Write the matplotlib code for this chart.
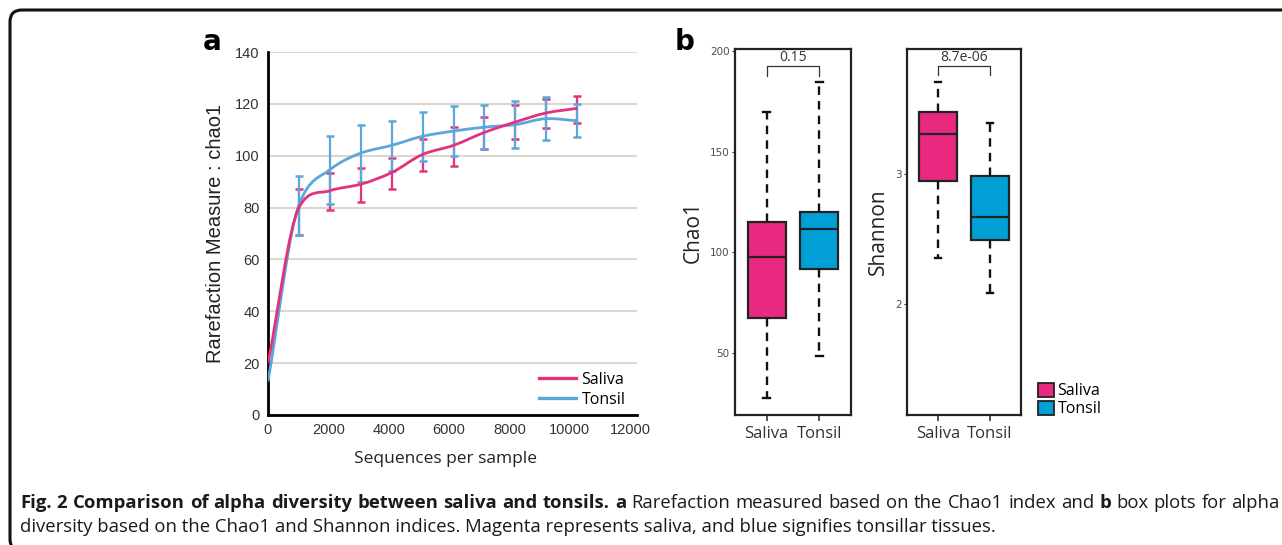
import numpy as np
import matplotlib
matplotlib.use("Agg")
import matplotlib.pyplot as plt
from matplotlib.path import Path
from matplotlib.patches import PathPatch, FancyBboxPatch, Patch
from matplotlib.lines import Line2D

# ---- data: rarefaction (panel a) ----
seq_depth = [0, 1025, 2050, 3075, 4100, 5125, 6150, 7175, 8200, 9225, 10250]
saliva_mean = [20, 80, 86.5, 89, 93.5, 100.5, 104, 109, 113, 116.5, 118.3]
saliva_low = [20, 69.3, 79.1, 82.2, 87.0, 94.2, 96.1, 102.6, 106.3, 110.6, 112.8]
saliva_high = [20, 87.1, 93.2, 95.2, 99.2, 106.3, 111.2, 115.0, 119.4, 121.9, 123.2]
tonsil_mean = [13, 81, 94.6, 101, 104, 107.5, 109.5, 111, 112, 114.3, 113.5]
tonsil_low = [13, 69.3, 81.3, 89.9, 94.2, 98.1, 100.0, 102.6, 102.8, 105.9, 107.1]
tonsil_high = [13, 92.0, 107.5, 111.9, 113.5, 116.9, 119.1, 119.5, 121.2, 122.5, 119.9]

# ---- data: box plots (panel b) ----
groups = ["Saliva", "Tonsil"]
chao1_whislo = [28, 48.5]
chao1_q1 = [67.5, 92]
chao1_med = [98, 111.6]
chao1_q3 = [115, 120.2]
chao1_whishi = [169.8, 184.7]
chao1_p = "0.15"
shannon_whislo = [2.356, 2.085]
shannon_q1 = [2.943, 2.492]
shannon_med = [3.308, 2.669]
shannon_q3 = [3.477, 2.987]
shannon_whishi = [3.705, 3.395]
shannon_p = "8.7e-06"

PINK_LINE = "#e2327c"
BLUE_LINE = "#5ba6da"
PINK_BOX = "#e8297f"
BLUE_BOX = "#00a0d6"

W, H = 1282, 545
fig = plt.figure(figsize=(W / 100, H / 100), dpi=100)


def frac(x0, y0, x1, y1):
    # pixel box (top-left origin) -> figure fraction rect
    return [x0 / W, 1 - y1 / H, (x1 - x0) / W, (y1 - y0) / H]


def smooth_path(x, y):
    # smoothed line through the points as cubic bezier segments
    # tangents: mix of catmull-rom and monotone (pchip) so the knee doesn't overshoot much
    x = np.asarray(x, float)
    y = np.asarray(y, float)
    n = len(x)
    h = np.diff(x)
    d = np.diff(y) / h
    m = np.zeros(n)
    for k in range(1, n - 1):
        cr = (y[k + 1] - y[k - 1]) / (x[k + 1] - x[k - 1])
        if d[k - 1] * d[k] > 0:
            w1 = 2 * h[k] + h[k - 1]
            w2 = h[k] + 2 * h[k - 1]
            pc = (w1 + w2) / (w1 / d[k - 1] + w2 / d[k])
        else:
            pc = 0.0
        m[k] = 0.5 * (cr + pc)
    m[0] = d[0]
    m[-1] = d[-1]
    verts = [(x[0], y[0])]
    codes = [Path.MOVETO]
    for k in range(n - 1):
        verts += [(x[k] + h[k] / 3, y[k] + m[k] * h[k] / 3),
                  (x[k + 1] - h[k] / 3, y[k + 1] - m[k + 1] * h[k] / 3),
                  (x[k + 1], y[k + 1])]
        codes += [Path.CURVE4] * 3
    return Path(verts, codes)


# ---------------- panel a ----------------
ax = fig.add_axes(frac(268, 52, 637, 415))
ax.set_xlim(0, 12230)
ax.set_ylim(0, 140)
ax.set_yticks(range(0, 141, 20))
ax.set_xticks(range(0, 12001, 2000))
ax.yaxis.grid(True, color="#dcd6cf", lw=1.5)
ax.set_axisbelow(True)
for s in ["top", "right"]:
    ax.spines[s].set_visible(False)
ax.spines["left"].set_linewidth(2)
ax.spines["bottom"].set_linewidth(2)
ax.tick_params(length=0, labelsize=10.5, labelcolor="#333333", pad=6)
for lab in ax.get_xticklabels() + ax.get_yticklabels():
    lab.set_fontfamily("Liberation Sans")

xs = np.array(seq_depth)
for mean, lo, hi, col, z in [(saliva_mean, saliva_low, saliva_high, PINK_LINE, 2),
                             (tonsil_mean, tonsil_low, tonsil_high, BLUE_LINE, 3)]:
    m = np.array(mean)
    yerr = [m[1:] - np.array(lo)[1:], np.array(hi)[1:] - m[1:]]
    ax.errorbar(xs[1:], m[1:], yerr=yerr, fmt="none", ecolor=col, elinewidth=1.6,
                capsize=2.7, capthick=1.8, zorder=z)
ax.add_patch(PathPatch(smooth_path(xs, tonsil_mean), fill=False, ec=BLUE_LINE, lw=2, zorder=4))
ax.add_patch(PathPatch(smooth_path(xs, saliva_mean), fill=False, ec=PINK_LINE, lw=2, zorder=5))

handles = [Line2D([], [], color=PINK_LINE, lw=2.4), Line2D([], [], color=BLUE_LINE, lw=2.4)]
ax.legend(handles, groups, loc="lower right", bbox_to_anchor=(1.008, -0.02), frameon=False,
          handlelength=2.3, handletextpad=0.35, labelspacing=0.25,
          prop={"family": "Open Sans", "size": 11.5})
ax.set_ylabel("Rarefaction Measure : chao1", fontsize=14.5, family="Liberation Sans",
              color="#222222", labelpad=7)
ax.set_xlabel("Sequences per sample", fontsize=12.5, family="Open Sans", color="#222222",
              labelpad=6)
ax.xaxis.set_label_coords(0.48, -0.1)

fig.text(212 / W, 1 - 42 / H, "a", fontsize=20, fontweight="bold", family="DejaVu Sans",
         ha="center", va="center")
fig.text(685 / W, 1 - 42 / H, "b", fontsize=20, fontweight="bold", family="DejaVu Sans",
         ha="center", va="center")


# ---------------- panel b ----------------
def box_panel(rect, whislo, q1, med, q3, whishi, ylim, yticks, ylabel, ptext, ybar, ydrop, ytext):
    bx = fig.add_axes(rect)
    stats = []
    for i in range(len(groups)):
        stats.append(dict(whislo=whislo[i], q1=q1[i], med=med[i], q3=q3[i],
                          whishi=whishi[i], fliers=[], label=groups[i]))
    res = bx.bxp(stats, positions=[1, 2], widths=0.72, patch_artist=True,
                 capwidths=0.12, showfliers=False,
                 boxprops=dict(lw=1.6, edgecolor="#222222"),
                 medianprops=dict(lw=1.6, color="#222222"),
                 whiskerprops=dict(lw=1.7, color="#111111", linestyle=(0, (3.6, 2.6))),
                 capprops=dict(lw=1.7, color="#111111"))
    for patch, col in zip(res["boxes"], [PINK_BOX, BLUE_BOX]):
        patch.set_facecolor(col)
    bx.set_xlim(0.4, 2.6)
    bx.set_ylim(*ylim)
    bx.set_yticks(yticks)
    for s in bx.spines.values():
        s.set_linewidth(1.6)
        s.set_color("#222222")
    bx.tick_params(axis="y", length=2.5, width=0.8, labelsize=7.5, labelcolor="#4d4d4d",
                   color="#333333", pad=1.5)
    bx.tick_params(axis="x", length=4, width=1.2, labelsize=12, labelcolor="#333333",
                   color="#333333", pad=4)
    for lab in bx.get_xticklabels():
        lab.set_fontfamily("Open Sans")
    bx.set_ylabel(ylabel, fontsize=15, family="Open Sans", color="#222222", labelpad=4)
    bx.plot([1, 1, 2, 2], [ydrop, ybar, ybar, ydrop], color="#333333", lw=0.9)
    bx.text(1.5, ytext, ptext, ha="center", va="center", fontsize=10,
            family="Open Sans", color="#333333")
    return bx


box_panel(frac(735, 49, 851, 415), chao1_whislo, chao1_q1, chao1_med, chao1_q3,
          chao1_whishi, (19.5, 200.8), [50, 100, 150, 200], "Chao1", chao1_p,
          192.6, 187.6, 196.4)
box_panel(frac(907, 49, 1021, 415), shannon_whislo, shannon_q1, shannon_med, shannon_q3,
          shannon_whishi, (1.148, 3.96), [2, 3], "Shannon", shannon_p,
          3.833, 3.764, 3.892)

leg_handles = [Patch(facecolor=PINK_BOX, edgecolor="#222222", lw=1.3),
               Patch(facecolor=BLUE_BOX, edgecolor="#222222", lw=1.3)]
fig.legend(leg_handles, groups, loc="center left", bbox_to_anchor=(1024 / W, 1 - 400 / H),
           frameon=False, handlelength=0.95, handleheight=1.0, handletextpad=0.25,
           labelspacing=0.1, prop={"family": "Open Sans", "size": 11.5})

# ---------------- caption ----------------
fig.canvas.draw()
renderer = fig.canvas.get_renderer()
CAP_SIZE = 13.3
bold_part = "Fig. 2 Comparison of alpha diversity between saliva and tonsils."
line1 = [(w, "bold") for w in bold_part.split()]
line1 += [("a", "bold")]
line1 += [(w, "normal") for w in "Rarefaction measured based on the Chao1 index and".split()]
line1 += [("b", "bold")]
line1 += [(w, "normal") for w in "box plots for alpha".split()]

# first line is justified to the right edge
words = []
for txt, wt in line1:
    t = fig.text(0, 0, txt, fontsize=CAP_SIZE, fontweight=wt, family="Open Sans",
                 color="#1a1a1a", va="center", ha="left")
    words.append((t, t.get_window_extent(renderer).width))
gap = (1280 - 20 - sum(w for _, w in words)) / (len(words) - 1)
xpix = 20
for t, w in words:
    t.set_position((xpix / W, 1 - 503 / H))
    xpix += w + gap

fig.text(20 / W, 1 - 527 / H,
         "diversity based on the Chao1 and Shannon indices. Magenta represents saliva, "
         "and blue signifies tonsillar tissues.",
         fontsize=CAP_SIZE, family="Open Sans", color="#1a1a1a", va="center", ha="left")

# rounded outer frame
fig.patches.append(FancyBboxPatch((10, -6), 1300, 541, boxstyle="round,pad=0,rounding_size=12",
                                  transform=None, fill=False, ec="#111111", lw=2.2))

fig.savefig("out.png", dpi=100)
